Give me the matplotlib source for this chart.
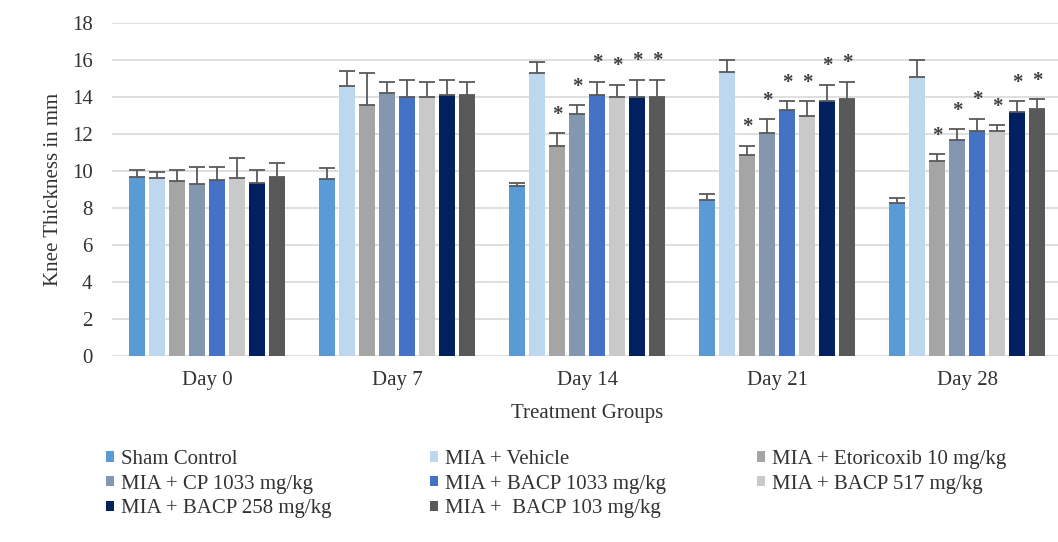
import matplotlib.pyplot as plt
import numpy as np
from matplotlib.patches import Patch

plt.rcParams['font.family'] = ['Liberation Serif', 'DejaVu Serif']

days = ["Day 0", "Day 7", "Day 14", "Day 21", "Day 28"]
groups = ["Sham Control", "MIA + Vehicle", "MIA + Etoricoxib 10 mg/kg",
          "MIA + CP 1033 mg/kg", "MIA + BACP 1033 mg/kg", "MIA + BACP 517 mg/kg",
          "MIA + BACP 258 mg/kg", "MIA +  BACP 103 mg/kg"]
colors = ["#5B9BD5", "#BDD7EE", "#A5A5A5", "#8497B0",
          "#4472C4", "#C9C9C9", "#002060", "#595959"]

# mean knee thickness (mm), one list per group, across days
means = [
    [9.70, 9.56, 9.20, 8.44, 8.26],
    [9.60, 14.59, 15.30, 15.36, 15.09],
    [9.47, 13.56, 11.35, 10.87, 10.54],
    [9.29, 14.24, 13.06, 12.07, 11.68],
    [9.52, 14.01, 14.10, 13.29, 12.18],
    [9.65, 13.98, 13.98, 12.99, 12.16],
    [9.38, 14.10, 14.01, 13.78, 13.17],
    [9.70, 14.10, 14.01, 13.90, 13.38],
]
errors = [
    [0.36, 0.63, 0.14, 0.31, 0.27],
    [0.37, 0.80, 0.60, 0.63, 0.90],
    [0.60, 1.74, 0.69, 0.50, 0.38],
    [0.95, 0.58, 0.50, 0.72, 0.59],
    [0.68, 0.90, 0.72, 0.49, 0.66],
    [1.04, 0.84, 0.70, 0.79, 0.32],
    [0.68, 0.85, 0.94, 0.90, 0.61],
    [0.72, 0.72, 0.94, 0.92, 0.49],
]
# significance marks (1 = star above the bar)
stars = [
    [0, 0, 0, 0, 0],
    [0, 0, 0, 0, 0],
    [0, 0, 1, 1, 1],
    [0, 0, 1, 1, 1],
    [0, 0, 1, 1, 1],
    [0, 0, 1, 1, 1],
    [0, 0, 1, 1, 1],
    [0, 0, 1, 1, 1],
]

fig = plt.figure(figsize=(10.58, 5.42), dpi=100)
ax = fig.add_axes([0.1059, 0.343, 0.898, 0.6144])

x = np.arange(len(days))
step = 0.105
width = 0.082
n = len(groups)

handles = []
for i in range(n):
    pos = x + (i - (n - 1) / 2) * step
    m = np.array(means[i])
    e = np.array(errors[i])
    ax.bar(pos, m, width, color=colors[i], zorder=2)
    ax.errorbar(pos, m, yerr=[np.zeros_like(e), e], fmt='none',
                ecolor='#595959', elinewidth=1.3, capsize=6, capthick=1.3, zorder=3)
    for j in range(len(days)):
        if stars[i][j]:
            ax.text(pos[j], m[j] + e[j] + 1.0, '*', ha='center', va='center',
                    fontsize=15, color='#404040', fontweight='bold', zorder=4)
    handles.append(Patch(facecolor=colors[i], edgecolor='none', label=groups[i]))

ax.set_xlim(-0.5, 4.5)
ax.set_ylim(0, 18)
ax.set_yticks(np.arange(0, 19, 2))
ax.set_xticks(x)
ax.set_xticklabels(days)
ax.tick_params(axis='both', length=0, labelsize=15, colors='#333333')
ax.tick_params(axis='y', pad=14)
ax.tick_params(axis='x', pad=11)
ax.grid(axis='y', color='#D9D9D9', linewidth=1.2, zorder=0)
ax.set_axisbelow(True)
for s in ax.spines.values():
    s.set_visible(False)

ax.set_ylabel("Knee Thickness in mm", fontsize=15, color='#333333', labelpad=6)
ax.set_xlabel("Treatment Groups", fontsize=15, color='#333333', labelpad=10)

# legend laid out row-wise in three columns
col_x = [106, 430, 757]
cols = [[0, 3, 6], [1, 4, 7], [2, 5]]
for cx, idx in zip(col_x, cols):
    leg = fig.legend([handles[k] for k in idx], [groups[k] for k in idx],
                     loc='upper left', bbox_to_anchor=(cx / 1058, 1 - 450 / 542),
                     frameon=False, fontsize=15, handlelength=0.4, handleheight=0.4,
                     handletextpad=0.3, labelspacing=0.27, borderaxespad=0,
                     borderpad=0, labelcolor='#333333')

fig.savefig("out.png", dpi=100)
